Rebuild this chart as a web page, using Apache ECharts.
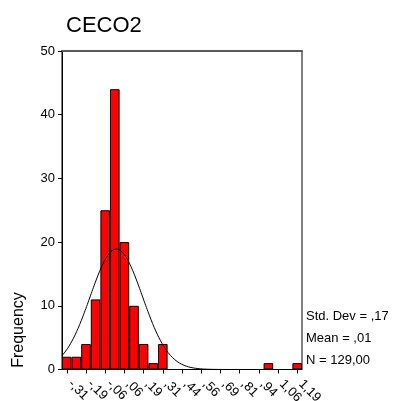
<!DOCTYPE html>
<html>
<head>
<meta charset="utf-8">
<script src="https://cdn.jsdelivr.net/npm/echarts@6/dist/echarts.min.js"></script>
<style>
  html, body { margin: 0; padding: 0; background: #fff; }
  #chart { width: 394px; height: 401px; }
</style>
</head>
<body>
<div id="chart"></div>
<script>
// Histogram bins of CECO2 (bin width 0,0625), labelled by bin centre
const categories = ['-,31','-,25','-,19','-,13','-,06',',00',',06',',13',',19',',25',',31',',38',
  ',44',',50',',56',',63',',69',',75',',81',',88',',94','1,00','1,06','1,13','1,19'];
const frequencies = [2, 2, 4, 11, 25, 44, 20, 10, 4, 1, 4, 0, 0, 0, 0, 0, 0, 0, 0, 0, 0, 1, 0, 0, 1];

// Summary statistics shown beside the plot
const stdDev = 0.17;
const mean = 0.01;
const count = 129;
const statLines = ['Std. Dev = ,17', 'Mean = ,01', 'N = 129,00'];

// Value range covered by the bins (edges of first and last bin)
const binWidth = 0.0625;
const rangeMin = -0.34375;
const rangeMax = 1.21875;

// Fitted normal curve scaled to the histogram counts
const curve = [];
for (let x = rangeMin; x <= rangeMax + 1e-9; x += 0.005) {
  const z = (x - mean) / stdDev;
  const y = count * binWidth / (stdDev * Math.sqrt(2 * Math.PI)) * Math.exp(-0.5 * z * z);
  curve.push([x, y]);
}

const chart = echarts.init(document.getElementById('chart'), null, { renderer: 'canvas' });
const font = 'Arial, "Liberation Sans", sans-serif';

chart.setOption({
  animation: false,
  backgroundColor: '#fff',
  title: {
    text: 'CECO2',
    left: 61, top: 10,
    textStyle: { fontFamily: font, fontSize: 22, fontWeight: 'normal', color: '#000' }
  },
  grid: {
    left: 62, top: 51, width: 240, height: 318.5,
    outerBoundsMode: 'none', containLabel: false,
    show: true, borderColor: '#000', borderWidth: 1, backgroundColor: 'transparent'
  },
  xAxis: [
    {
      type: 'category',
      data: categories,
      position: 'bottom',
      axisLine: { onZero: false, lineStyle: { color: '#000', width: 1 } },
      axisTick: { show: true, interval: 1, alignWithLabel: true, length: 4, lineStyle: { color: '#000' } },
      axisLabel: {
        interval: 1, rotate: -45, margin: 9, padding: [0, 0, 0, 5],
        fontFamily: font, fontSize: 13, color: '#000'
      },
      splitLine: { show: false }
    },
    {
      type: 'value',
      min: rangeMin, max: rangeMax,
      position: 'top',
      axisLine: { show: true, onZero: false, lineStyle: { color: '#5a5a5a', width: 2 } },
      axisTick: { show: false },
      axisLabel: { show: false },
      splitLine: { show: false }
    }
  ],
  yAxis: {
    type: 'value',
    min: 0, max: 50, interval: 10,
    axisLine: { show: true, onZero: false, lineStyle: { color: '#000', width: 1 } },
    axisTick: { show: true, length: 4, lineStyle: { color: '#000' } },
    axisLabel: { margin: 7, fontFamily: font, fontSize: 13, color: '#000' },
    splitLine: { show: false }
  },
  series: [
    {
      type: 'bar',
      xAxisIndex: 0,
      data: frequencies,
      barCategoryGap: '0%',
      itemStyle: { color: '#ff0000', borderColor: '#000', borderWidth: 1 },
      z: 2
    },
    {
      type: 'line',
      xAxisIndex: 1,
      data: curve,
      showSymbol: false,
      smooth: false,
      lineStyle: { color: '#000', width: 1 },
      z: 3
    }
  ],
  graphic: [
    {
      type: 'text',
      x: 19, y: 330,
      rotation: Math.PI / 2,
      style: {
        text: 'Frequency', fill: '#000',
        font: '16px ' + font, align: 'center', verticalAlign: 'middle'
      }
    },
    ...statLines.map((t, i) => ({
      type: 'text',
      x: 306, y: 316 + i * 22,
      style: { text: t, fill: '#000', font: '13px ' + font, align: 'left', verticalAlign: 'middle' }
    }))
  ]
});
</script>
</body>
</html>
